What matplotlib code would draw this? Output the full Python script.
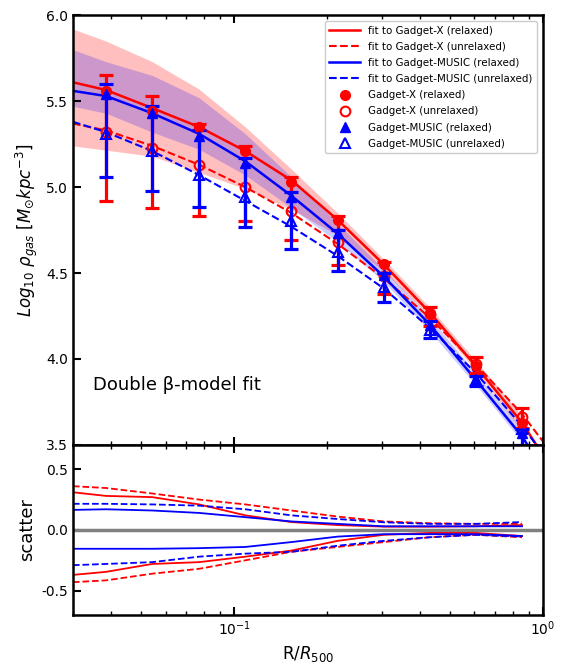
import numpy as np
import matplotlib
matplotlib.use("Agg")
import matplotlib.pyplot as plt
from matplotlib.ticker import FixedLocator, FormatStrFormatter
from matplotlib.lines import Line2D

# ---------------- data ----------------
r_bins = [0.0384, 0.0542, 0.0769, 0.1086, 0.153, 0.216, 0.305, 0.43, 0.605, 0.855]

gx_rel = [5.56, 5.44, 5.35, 5.21, 5.03, 4.81, 4.55, 4.27, 3.96, 3.63]
gx_rel_lo = [4.92, 4.88, 4.83, 4.80, 4.69, 4.545, 4.38, 4.19, 3.92, 3.60]
gx_rel_hi = [5.655, 5.53, 5.37, 5.24, 5.06, 4.83, 4.565, 4.30, 4.01, 3.715]

gx_unrel = [5.32, 5.23, 5.13, 5.00, 4.86, 4.68, 4.48, 4.26, 3.97, 3.66]

gm_rel = [5.54, 5.43, 5.30, 5.14, 4.94, 4.73, 4.49, 4.20, 3.88, 3.57]
gm_rel_lo = [5.056, 4.98, 4.885, 4.765, 4.64, 4.51, 4.33, 4.12, 3.84, 3.50]
gm_rel_hi = [5.60, 5.47, 5.33, 5.17, 4.97, 4.75, 4.50, 4.22, 3.90, 3.59]

gm_unrel = [5.31, 5.21, 5.07, 4.94, 4.80, 4.62, 4.42, 4.17, 3.88, 3.59]

# fit curves
r_fit = [0.03, 0.0384, 0.0542, 0.0769, 0.1086, 0.153, 0.216, 0.305, 0.43, 0.605, 0.855, 1.0]
fit_gx_rel = [5.61, 5.565, 5.46, 5.35, 5.21, 5.04, 4.81, 4.55, 4.27, 3.96, 3.63, 3.44]
fit_gx_unrel = [5.37, 5.33, 5.24, 5.13, 5.00, 4.85, 4.67, 4.47, 4.24, 3.97, 3.68, 3.52]
fit_gm_rel = [5.56, 5.53, 5.43, 5.31, 5.15, 4.95, 4.73, 4.48, 4.20, 3.88, 3.55, 3.36]
fit_gm_unrel = [5.38, 5.32, 5.21, 5.07, 4.92, 4.77, 4.60, 4.41, 4.18, 3.92, 3.61, 3.45]

# scatter bands (main panel)
r_band = [0.03, 0.0384, 0.0542, 0.0769, 0.1086, 0.153, 0.216, 0.305, 0.43, 0.605, 0.855]
band_gx_hi = [5.92, 5.85, 5.73, 5.57, 5.35, 5.105, 4.85, 4.58, 4.30, 3.99, 3.67]
band_gx_lo = [5.24, 5.215, 5.18, 5.085, 4.99, 4.87, 4.72, 4.51, 4.245, 3.935, 3.58]
band_gm_hi = [5.80, 5.73, 5.65, 5.52, 5.31, 5.06, 4.79, 4.52, 4.24, 3.92, 3.59]
band_gm_lo = [5.47, 5.43, 5.32, 5.22, 5.07, 4.88, 4.68, 4.45, 4.16, 3.85, 3.52]

# lower panel: scatter
sc_gx_rel_hi = [0.31, 0.28, 0.27, 0.21, 0.12, 0.065, 0.04, 0.027, 0.027, 0.03, 0.04]
sc_gx_rel_lo = [-0.37, -0.345, -0.28, -0.265, -0.22, -0.17, -0.09, -0.04, -0.025, -0.025, -0.05]
sc_gx_unrel_hi = [0.36, 0.345, 0.30, 0.25, 0.21, 0.16, 0.11, 0.07, 0.055, 0.05, 0.05]
sc_gx_unrel_lo = [-0.43, -0.415, -0.36, -0.32, -0.25, -0.18, -0.14, -0.10, -0.06, -0.04, -0.06]
sc_gm_rel_hi = [0.165, 0.17, 0.16, 0.14, 0.105, 0.07, 0.05, 0.03, 0.03, 0.03, 0.03]
sc_gm_rel_lo = [-0.155, -0.155, -0.155, -0.15, -0.14, -0.10, -0.055, -0.035, -0.035, -0.035, -0.05]
sc_gm_unrel_hi = [0.215, 0.215, 0.21, 0.20, 0.17, 0.12, 0.09, 0.063, 0.05, 0.05, 0.065]
sc_gm_unrel_lo = [-0.29, -0.28, -0.265, -0.22, -0.195, -0.18, -0.13, -0.09, -0.06, -0.04, -0.055]

y_ticks_main = [3.5, 4.0, 4.5, 5.0, 5.5, 6.0]
y_ticks_sc = [-0.5, 0.0, 0.5]

# ---------------- figure ----------------
fig = plt.figure(figsize=(5.65, 6.63), dpi=100)
ax = fig.add_axes([0.129, 0.329, 0.832, 0.648])
ax2 = fig.add_axes([0.129, 0.0724, 0.832, 0.2566], sharex=ax)

ax.fill_between(r_band, band_gx_lo, band_gx_hi, color='red', alpha=0.25, lw=0)
ax.fill_between(r_band, band_gm_lo, band_gm_hi, color='blue', alpha=0.2, lw=0)

ax.plot(r_fit, fit_gx_rel, color='red', lw=1.8)
ax.plot(r_fit, fit_gx_unrel, color='red', lw=1.5, ls='--')
ax.plot(r_fit, fit_gm_rel, color='blue', lw=1.8)
ax.plot(r_fit, fit_gm_unrel, color='blue', lw=1.5, ls='--')

gxr = np.array(gx_rel)
gmr = np.array(gm_rel)
ax.errorbar(r_bins, gx_rel, yerr=[gxr - np.array(gx_rel_lo), np.array(gx_rel_hi) - gxr],
            fmt='o', color='red', ms=7, elinewidth=2.3, capsize=5, capthick=2.3)
ax.plot(r_bins, gx_unrel, 'o', mfc='none', mec='red', mew=1.5, ms=7)
ax.errorbar(r_bins, gm_rel, yerr=[gmr - np.array(gm_rel_lo), np.array(gm_rel_hi) - gmr],
            fmt='^', color='blue', ms=7, elinewidth=2.3, capsize=5, capthick=2.3)
ax.plot(r_bins, gm_unrel, '^', mfc='none', mec='blue', mew=1.5, ms=7)

ax.set_xscale('log')
ax.set_xlim(0.03, 1.0)
ax.set_ylim(3.5, 6.0)
ax.yaxis.set_major_locator(FixedLocator(y_ticks_main))
ax.yaxis.set_major_formatter(FormatStrFormatter('%.1f'))
ax.set_ylabel(r'$Log_{10}\ \rho_{gas}\ [M_{\odot} kpc^{-3}]$', fontsize=12)
ax.tick_params(axis='x', which='both', labelbottom=False)
ax.text(0.043, 0.14, 'Double β-model fit', transform=ax.transAxes, fontsize=13,
        va='center', ha='left')

handles = [
    Line2D([], [], color='red', lw=1.8),
    Line2D([], [], color='red', lw=1.5, ls='--'),
    Line2D([], [], color='blue', lw=1.8),
    Line2D([], [], color='blue', lw=1.5, ls='--'),
    Line2D([], [], ls='none', marker='o', color='red', ms=7),
    Line2D([], [], ls='none', marker='o', mfc='none', mec='red', mew=1.5, ms=7),
    Line2D([], [], ls='none', marker='^', color='blue', ms=7),
    Line2D([], [], ls='none', marker='^', mfc='none', mec='blue', mew=1.5, ms=7),
]
labels = ['fit to Gadget-X (relaxed)', 'fit to Gadget-X (unrelaxed)',
          'fit to Gadget-MUSIC (relaxed)', 'fit to Gadget-MUSIC (unrelaxed)',
          'Gadget-X (relaxed)', 'Gadget-X (unrelaxed)',
          'Gadget-MUSIC (relaxed)', 'Gadget-MUSIC (unrelaxed)']
ax.legend(handles, labels, loc='upper right', fontsize=7.4, numpoints=1,
          handlelength=3.0, handletextpad=0.8, borderpad=0.45, labelspacing=0.6,
          framealpha=1, borderaxespad=0.55)

# lower panel
ax2.axhline(0.0, color='gray', lw=2.5)
ax2.plot(r_band, sc_gx_rel_hi, color='red', lw=1.3)
ax2.plot(r_band, sc_gx_rel_lo, color='red', lw=1.3)
ax2.plot(r_band, sc_gx_unrel_hi, color='red', lw=1.3, ls='--')
ax2.plot(r_band, sc_gx_unrel_lo, color='red', lw=1.3, ls='--')
ax2.plot(r_band, sc_gm_rel_hi, color='blue', lw=1.3)
ax2.plot(r_band, sc_gm_rel_lo, color='blue', lw=1.3)
ax2.plot(r_band, sc_gm_unrel_hi, color='blue', lw=1.3, ls='--')
ax2.plot(r_band, sc_gm_unrel_lo, color='blue', lw=1.3, ls='--')
ax2.set_ylim(-0.7, 0.7)
ax2.yaxis.set_major_locator(FixedLocator(y_ticks_sc))
ax2.yaxis.set_major_formatter(FormatStrFormatter('%.1f'))
ax2.set_ylabel('scatter', fontsize=13)
ax2.set_xlabel(r'R/$R_{500}$', fontsize=12)

for a in (ax, ax2):
    a.tick_params(which='both', direction='in', top=True, right=False, labelsize=10)
    a.tick_params(which='major', length=6, width=1.5)
    a.tick_params(which='minor', length=3, width=1)
    for s in a.spines.values():
        s.set_linewidth(1.8)

fig.savefig('out.png', dpi=100)
